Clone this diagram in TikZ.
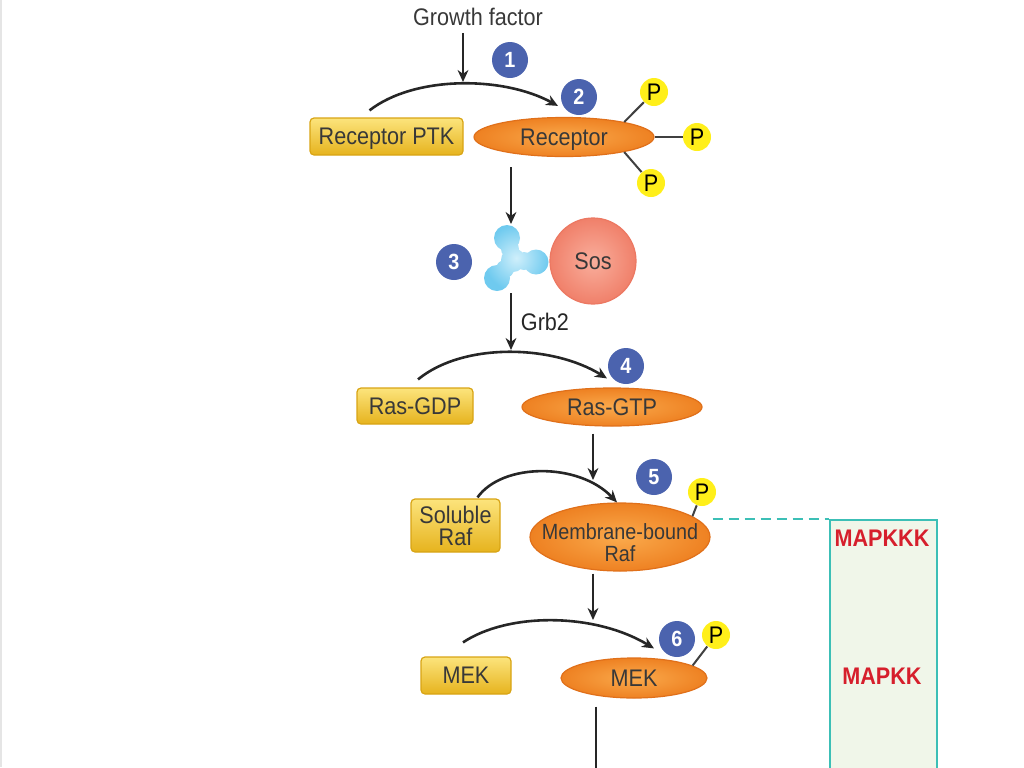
\documentclass[tikz,border=0pt]{standalone}
\usepackage{fontspec}
\setmainfont{Liberation Sans}[FakeStretch=0.9]
\definecolor{badgeblue}{HTML}{4B63AE}
\definecolor{boxlight}{HTML}{FCE47C}
\definecolor{boxgold}{HTML}{E6B31E}
\definecolor{boxedge}{HTML}{D8A414}
\definecolor{ovallight}{HTML}{FAAA4C}
\definecolor{ovalorange}{HTML}{EE8122}
\definecolor{ovaledge}{HTML}{E0701A}
\definecolor{soslight}{HTML}{F9AE9C}
\definecolor{sosred}{HTML}{F0806A}
\definecolor{sosedge}{HTML}{EC7862}
\definecolor{grblight}{HTML}{CFEFFB}
\definecolor{grbblue}{HTML}{6FCAEF}
\definecolor{phosyellow}{HTML}{FFEF1A}
\definecolor{mapteal}{HTML}{3CBFB6}
\definecolor{mapgreen}{HTML}{F0F6E9}
\definecolor{mapred}{HTML}{D61F2C}
\usetikzlibrary{calc, arrows.meta, shapes.geometric}

\begin{document}
\begin{tikzpicture}[x=0.5pt,y=-0.5pt,
    font=\fontsize{12}{12}\selectfont, text=black!78,
    flow/.style={-{Stealth[length=6pt,width=5.4pt]},line width=1.3pt,black!85},
    kinbox/.style={draw=boxedge,line width=0.6pt,rounded corners=2pt,top color=boxlight,bottom color=boxgold,inner sep=0pt,text depth=0pt},
    kinoval/.style={ellipse,draw=ovaledge,line width=0.6pt,inner color=ovallight,outer color=ovalorange,inner sep=0pt,text depth=0pt},
    badge/.style={circle,fill=badgeblue,text=white,font=\fontsize{11}{12}\selectfont\bfseries,minimum size=18pt,inner sep=0pt},
    phos/.style={circle,fill=phosyellow,text=black,minimum size=14pt,inner sep=0pt,text depth=0pt},
    plink/.style={line width=1pt,black!75},
    maplabel/.style={text=mapred,font=\fontsize{12}{12}\selectfont\bfseries}]
            \useasboundingbox (0,0) rectangle (1024,767);
            \draw[black!10,line width=0.8pt] (0.8,0) -- (0.8,767);
            \node[anchor=north west,draw=mapteal,line width=1pt,fill=mapgreen,minimum width=53.5pt,minimum height=140pt] (mapbox) at (829,519) {};

            \node[text depth=0pt] (gf) at (478,17) {Growth factor};
            \node[kinbox,minimum width=76.5pt,minimum height=18.5pt] (ptk) at (386.5,136.5) {Receptor PTK};
            \node[kinoval,minimum width=90pt,minimum height=19.5pt] (rec) at (564,137) {Receptor};
            \node[kinbox,minimum width=58pt,minimum height=18pt] (gdp) at (415,406) {Ras-GDP};
            \node[kinoval,minimum width=90pt,minimum height=19pt] (gtp) at (612,407) {Ras-GTP};
            \node[kinbox,minimum width=44.5pt,minimum height=26.5pt,align=center,font=\fontsize{12}{11}\selectfont] (sraf) at (455.5,525.5) {Soluble\\Raf};
            \node[kinoval,minimum width=90pt,minimum height=34pt] (mraf) at (620,537) {};
            \node[align=center,font=\fontsize{11}{11}\selectfont,text depth=0pt] (mraftext) at ($(mraf)+(0,6)$) {Membrane-bound\\Raf};
            \node[kinbox,minimum width=45pt,minimum height=18.5pt] (mekbox) at (466,675.5) {MEK};
            \node[kinoval,minimum width=73pt,minimum height=20pt] (mek) at (634,678) {MEK};

            \coordinate (grb) at (513,260);
            \shade[inner color=grblight,outer color=grbblue] ($(grb)+(-6,-22)$) circle (13) ($(grb)+(-3,-11)$) circle (9)
                ($(grb)+(23,2)$) circle (12.5) ($(grb)+(11,1)$) circle (9)
                ($(grb)+(-16,18)$) circle (13) ($(grb)+(-8,9)$) circle (9) (grb) circle (12);
            \node[circle,draw=sosedge,line width=0.6pt,inner color=soslight,outer color=sosred,minimum size=43pt,inner sep=0pt] (sos) at (593,261) {Sos};

            \node[badge] (b1) at (510,60) {1};
            \node[badge] (b2) at (579,97) {2};
            \node[badge] (b3) at (454,262) {3};
            \node[badge] (b4) at (626,366) {4};
            \node[badge] (b5) at (654,477) {5};
            \node[badge] (b6) at (677,639) {6};

            \node[phos] (p1) at (654,92) {P};
            \node[phos] (p2) at (697,137) {P};
            \node[phos] (p3) at (651,183) {P};
            \node[phos] (p4) at (702,492) {P};
            \node[phos] (p5) at (716,635) {P};
            \draw[plink] (rec.14) -- (p1);
            \draw[plink] (rec.east) -- (p2);
            \draw[plink] (rec.-14) -- (p3);
            \draw[plink] (mraf.16) -- (p4);
            \draw[plink] (mek.12) -- (p5);

            \coordinate (gftip) at (463,82);
            \coordinate (grbtop) at (511,224);
            \coordinate (grbfoot) at (511,293);
            \coordinate (rastip) at (511,350);
            \coordinate (raftip) at (593,480);
            \coordinate (mektip) at (593,620);
            \coordinate (erktip) at (596,790);
            \draw[flow] (gf.south -| gftip) -- (gftip);
            \draw[flow] ($(ptk.north)+(-17,-7)$) .. controls +(45,-35) and +(-55,-30) .. ($(rec.north)+(-6,-11)$);
            \draw[flow] ([yshift=-5pt]rec.south -| grbtop) -- (grbtop);
            \draw[flow] (grbfoot) -- (rastip) node[midway,right=1pt] {Grb2};
            \draw[flow] ($(gdp.north)+(3,-8)$) .. controls +(45,-37) and +(-55,-34) .. ($(gtp.north)+(-5,-9)$);
            \draw[flow] ([yshift=-3.5pt]gtp.south -| raftip) -- (raftip);
            \draw[flow] ($(sraf.north)+(22,-1)$) .. controls +(25,-35) and +(-38,-40) .. ($(mraf.north)+(-3,0)$);
            \draw[flow] ([yshift=-1pt]mraf.south -| mektip) -- (mektip);
            \draw[flow] ($(mekbox.north)+(-3,-14)$) .. controls +(45,-30) and +(-60,-36) .. ($(mek.north)+(20,-9)$);
            \draw[flow] ([yshift=-4pt]mek.south -| erktip) -- (erktip);

            \draw[mapteal,line width=1pt,dash pattern=on 5pt off 3pt] ($(mraf.east)+(2,-18)$) -- (mapbox.north west);
            \node[maplabel] (kkk) at (882,538) {MAPKKK};
            \node[maplabel] (kk) at (882,676) {MAPKK};
        \end{tikzpicture}
\end{document}
